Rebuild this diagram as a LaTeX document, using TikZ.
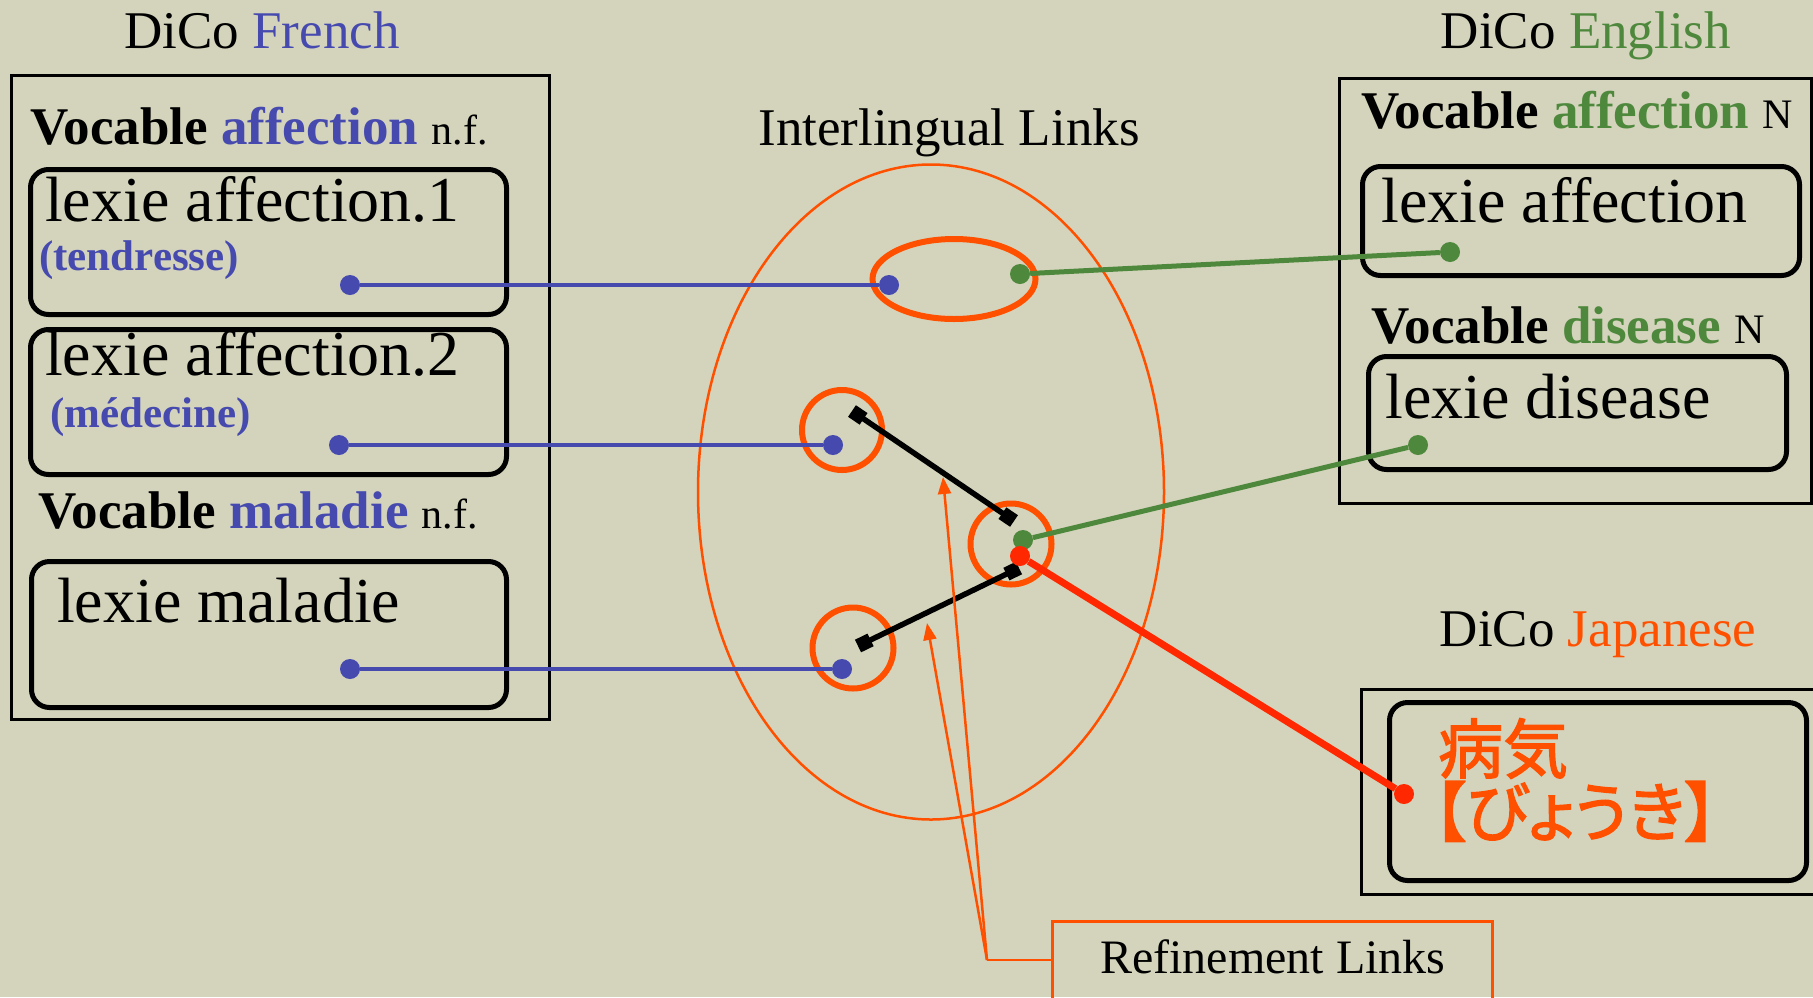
\documentclass[tikz,border=0pt]{standalone}
\usepackage{fontspec}
\setmainfont{Liberation Serif}
\newfontfamily\jpfont[RawFeature=+palt, FakeBold=2]{Noto Sans CJK JP}
\usetikzlibrary{shapes.geometric,arrows.meta}

\definecolor{paper}{RGB}{212,212,188}
\definecolor{frblue}{RGB}{70,74,175}
\definecolor{engreen}{RGB}{78,136,60}
\definecolor{jporange}{RGB}{255,80,0}
\definecolor{linkred}{RGB}{255,40,0}

\newcommand\fsz[1]{\fontsize{#1}{#1}\selectfont}

\begin{document}
\begin{tikzpicture}[x=1pt,y=-1pt,
  txt/.style={inner sep=0pt, anchor=base west},
  heading/.style={inner sep=0pt, anchor=base, font=\fsz{53}},
  dicoframe/.style={draw=black, line width=2.5pt, anchor=north west, inner sep=0pt},
  lexbox/.style={draw=black, line width=5pt, rounded corners=18pt, anchor=north west, inner sep=0pt},
  vocab/.style={txt, font=\fsz{53}\bfseries},
  lexie/.style={txt, font=\fsz{64}},
  gloss/.style={txt, font=\fsz{43}\bfseries, text=frblue},
  dot/.style={circle, inner sep=0pt, minimum size=20pt},
  bdot/.style={dot, fill=frblue},
  gdot/.style={dot, fill=engreen},
  rdot/.style={dot, fill=linkred},
  bline/.style={draw=frblue, line width=4.5pt},
  gline/.style={draw=engreen, line width=5pt},
  rline/.style={draw=linkred, line width=7pt},
  group/.style={draw=jporange, line width=6pt, inner sep=0pt},
  refine/.style={draw=black, line width=5.5pt,
    {Square[length=14pt,width=14pt]}-{Square[length=14pt,width=14pt]}},
  leader/.style={draw=jporange, line width=2.5pt},
  leadarrow/.style={leader, -{Triangle[length=17pt,width=13pt]}}
]
% paper background and page size
\fill[paper] (0,0) rectangle (1813,997);
\useasboundingbox (0,0) rectangle (1813,997);

% ---------- French dictionary ----------
\node[heading] (frTitle) at (262,48) {DiCo \textcolor{frblue}{French}};
\node[dicoframe, minimum width=538pt, minimum height=644pt] (frFrame) at (10,74) {};
\node[vocab] (frVocA) at (30,144) {Vocable \textcolor{frblue}{affection} {\fsz{42}\mdseries n.f.}};
\node[lexbox, minimum width=476pt, minimum height=145pt] (frLexA1) at (28,167) {};
\node[lexie] (frLexA1t) at (45,221) {lexie affection.1};
\node[gloss] (frGlossA1) at (39,270) {(tendresse)};
\node[lexbox, minimum width=476pt, minimum height=145pt] (frLexA2) at (28,327) {};
\node[lexie] (frLexA2t) at (45,375) {lexie affection.2};
\node[gloss] (frGlossA2) at (50,427) {(médecine)};
\node[vocab] (frVocM) at (38,528) {Vocable \textcolor{frblue}{maladie} {\fsz{42}\mdseries n.f.}};
\node[lexbox, minimum width=475pt, minimum height=146pt] (frLexM) at (29,559) {};
\node[lexie] (frLexMt) at (57,622) {lexie maladie};

% ---------- English dictionary ----------
\node[heading] (enTitle) at (1586,48) {DiCo \textcolor{engreen}{English}};
\node[dicoframe, minimum width=472pt, minimum height=425pt] (enFrame) at (1338,77) {};
\node[vocab] (enVocA) at (1361,128) {Vocable \textcolor{engreen}{affection} {\fsz{42}\mdseries N}};
\node[lexbox, minimum width=437pt, minimum height=109pt] (enLexA) at (1360,164) {};
\node[lexie] (enLexAt) at (1381,222) {lexie affection};
\node[vocab] (enVocD) at (1371,343) {Vocable \textcolor{engreen}{disease} {\fsz{42}\mdseries N}};
\node[lexbox, minimum width=418pt, minimum height=113pt] (enLexD) at (1366,354) {};
\node[lexie] (enLexDt) at (1385,418) {lexie disease};

% ---------- Japanese dictionary ----------
\node[heading] (jpTitle) at (1598,646) {DiCo \textcolor{jporange}{Japanese}};
\node[dicoframe, minimum width=480pt, minimum height=205pt] (jpFrame) at (1360,688) {};
\node[lexbox, minimum width=417pt, minimum height=178pt] (jpLex) at (1387,700) {};
\node[txt, text=jporange] (jpWord) at (1438,773) {\jpfont\fsz{65}病気};
\node[txt, text=jporange] (jpReading) at (1433,836) {\jpfont\fsz{65}【びょうき】};

% ---------- interlingual links ----------
\node[heading] (ilTitle) at (949,145) {Interlingual Links};
\node[ellipse, draw=jporange, line width=2.5pt, inner sep=0pt,
      minimum width=466pt, minimum height=655pt] (ilSpace) at (931,492) {};
\node[group, ellipse, minimum width=163pt, minimum height=80pt] (ilAffection) at (954,279) {};
\node[group, circle, minimum size=80pt] (ilMedical) at (842,430) {};
\node[group, circle, minimum size=81pt] (ilDisease) at (1011,544) {};
\node[group, circle, minimum size=81pt] (ilMaladie) at (853,648) {};

% refinement links between the interlingual links
\coordinate (rfA1) at (852,411);
\coordinate (rfA2) at (1014,521);
\coordinate (rfB1) at (858,646);
\coordinate (rfB2) at (1019,568);
\draw[refine] (rfA1) -- (rfA2);
\draw[refine] (rfB1) -- (rfB2);

% link end points
\node[bdot] (dFrA1) at (350,285) {};
\node[bdot] (dFrA2) at (339,445) {};
\node[bdot] (dFrM) at (350,669) {};
\node[bdot] (dIlA1) at (889,285) {};
\node[bdot] (dIlA2) at (833,445) {};
\node[bdot] (dIlM) at (842,669) {};
\node[gdot] (dEnA) at (1450,252) {};
\node[gdot] (dEnD) at (1418,445) {};
\node[gdot] (dIlEnA) at (1020,274) {};
\node[gdot] (dIlEnD) at (1023,540) {};
\node[rdot] (dIlJp) at (1020,556) {};
\node[rdot] (dJp) at (1404,794) {};

\draw[bline] (dFrA1) -- (dIlA1);
\draw[bline] (dFrA2) -- (dIlA2);
\draw[bline] (dFrM) -- (dIlM);
\draw[gline] (dIlEnA) -- (dEnA);
\draw[gline] (dIlEnD) -- (dEnD);
\draw[rline] (dIlJp) -- (dJp);

% ---------- refinement links callout ----------
\draw[jporange, line width=3pt] (1052,1010) -- (1052,921) -- (1492,921) -- (1492,1010);
\node[txt, font=\fsz{48}] (rfTitle) at (1100,973) {Refinement Links};
\coordinate (rfBoxIn) at (1052,960);
\coordinate (rfJoin) at (987,960);
\coordinate (rfTipA) at (943,477);
\coordinate (rfTipB) at (927,623);
\draw[leader] (rfBoxIn) -- (rfJoin);
\draw[leadarrow] (rfJoin) -- (rfTipA);
\draw[leadarrow] (rfJoin) -- (rfTipB);
\end{tikzpicture}
\end{document}
